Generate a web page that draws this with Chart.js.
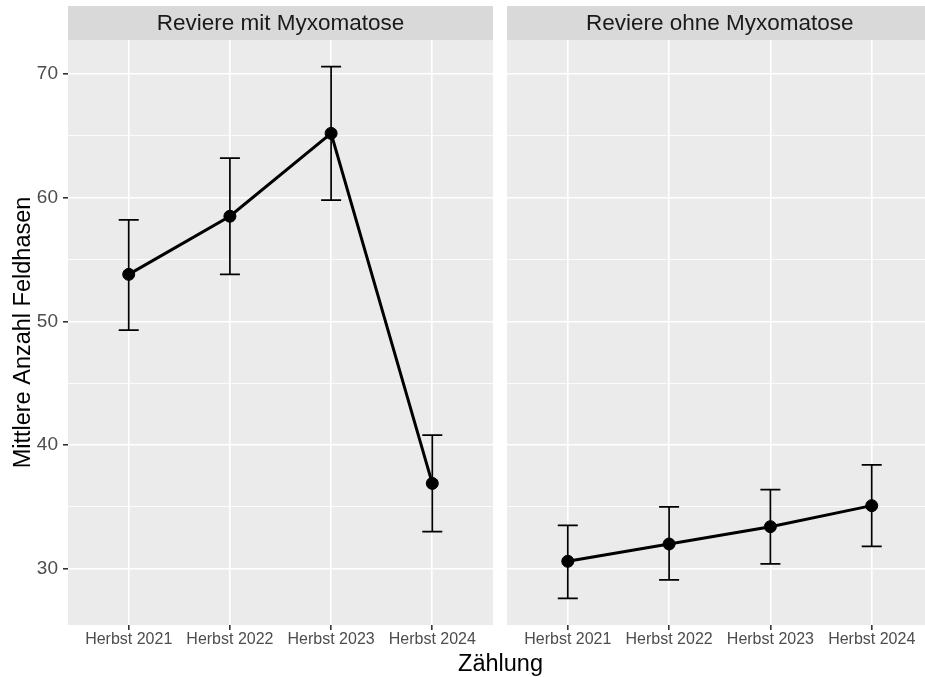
<!DOCTYPE html>
<html>
<head>
<meta charset="utf-8">
<script src="https://cdn.jsdelivr.net/npm/chart.js@4.4.1/dist/chart.umd.min.js"></script>
<style>
  body { margin: 0; background: #fff; overflow: hidden; width: 925px; height: 677px; position: relative; }
  canvas { position: absolute; top: 0; }
  #left { left: 0; }
  #right { left: 500px; }
  #xtitle { position: absolute; left: 400px; width: 201px; top: 652px; text-align: center;
            font: 23.5px "Liberation Sans", Arial, sans-serif; line-height: 23.5px; color: #000; }
</style>
</head>
<body>
<canvas id="left" width="500" height="677"></canvas>
<canvas id="right" width="440" height="677"></canvas>
<div id="xtitle">Zählung</div>
<script>
// data
const categories = ['Herbst 2021', 'Herbst 2022', 'Herbst 2023', 'Herbst 2024'];
const panels = ['Reviere mit Myxomatose', 'Reviere ohne Myxomatose'];

const mitMean  = [53.8, 58.5, 65.2, 36.9];
const mitLower = [49.3, 53.8, 59.8, 33.0];
const mitUpper = [58.2, 63.2, 70.6, 40.8];

const ohneMean  = [30.6, 32.0, 33.4, 35.1];
const ohneLower = [27.6, 29.1, 30.4, 31.8];
const ohneUpper = [33.5, 35.0, 36.4, 38.4];

const yGrid = [30, 35, 40, 45, 50, 55, 60, 65, 70]; // labels only on the tens
const yTitle = 'Mittlere Anzahl Feldhasen';

const FONT = '"Liberation Sans", Arial, sans-serif';

const panelPlugin = {
  id: 'panel',
  beforeDraw(chart, args, opts) {
    const { ctx, chartArea: a } = chart;
    ctx.save();
    ctx.fillStyle = '#ebebeb';
    ctx.fillRect(a.left, a.top, a.width, a.height);
    // strip
    ctx.fillStyle = '#d9d9d9';
    ctx.fillRect(a.left, 6, a.width, a.top - 6);
    ctx.fillStyle = '#1a1a1a';
    ctx.font = '22.5px ' + FONT;
    ctx.textAlign = 'center';
    ctx.textBaseline = 'middle';
    ctx.fillText(opts.strip, (a.left + a.right) / 2, 23.5);
    ctx.restore();
  },
  beforeDatasetsDraw(chart, args, opts) {
    const { ctx } = chart;
    const xs = chart.scales.x, ys = chart.scales.y;
    ctx.save();
    ctx.strokeStyle = '#000';
    ctx.lineWidth = 1.7;
    opts.lo.forEach((lo, i) => {
      const x = xs.getPixelForValue(i + 1);
      const y1 = ys.getPixelForValue(lo);
      const y2 = ys.getPixelForValue(opts.hi[i]);
      ctx.beginPath();
      ctx.moveTo(x, y1); ctx.lineTo(x, y2);
      ctx.moveTo(x - 10, y1); ctx.lineTo(x + 10, y1);
      ctx.moveTo(x - 10, y2); ctx.lineTo(x + 10, y2);
      ctx.stroke();
    });
    ctx.restore();
  },
  afterDraw(chart, args, opts) {
    if (!opts.yTitle) return;
    const { ctx, chartArea: a } = chart;
    ctx.save();
    ctx.translate(24, (a.top + a.bottom) / 2);
    ctx.rotate(-Math.PI / 2);
    ctx.fillStyle = '#000';
    ctx.font = '23.5px ' + FONT;
    ctx.textAlign = 'center';
    ctx.textBaseline = 'middle';
    ctx.fillText(opts.yTitle, 0, 0);
    ctx.restore();
  }
};

function makePanel(id, mean, lo, hi, strip, isLeft) {
  return new Chart(document.getElementById(id), {
    type: 'line',
    data: {
      datasets: [{
        data: mean.map((v, i) => ({ x: i + 1, y: v })),
        borderColor: '#000',
        borderWidth: 3,
        pointRadius: 6,
        pointBorderWidth: 1,
        pointBackgroundColor: '#000',
        pointBorderColor: '#000',
        tension: 0
      }]
    },
    options: {
      responsive: false,
      animation: false,
      layout: { padding: isLeft ? { left: 0, right: 4.5, top: 40, bottom: 0 }
                                : { left: 5, right: 7.5, top: 40, bottom: 0 } },
      plugins: {
        legend: { display: false },
        tooltip: { enabled: false },
        panel: { strip: strip, lo: lo, hi: hi, yTitle: isLeft ? yTitle : null }
      },
      scales: {
        x: {
          type: 'linear',
          min: 0.4,
          max: 4.6,
          afterBuildTicks: s => { s.ticks = categories.map((c, i) => ({ value: i + 1 })); },
          afterFit: s => { s.height = 52; },
          border: { display: false },
          grid: { color: '#fff', lineWidth: 1.6, tickLength: 5, tickColor: '#333', tickWidth: 1.6 },
          ticks: {
            autoSkip: false, maxRotation: 0, padding: 0,
            color: '#4d4d4d', font: { family: FONT, size: 16 },
            callback: v => categories[v - 1]
          }
        },
        y: {
          min: 25.45,
          max: 72.75,
          afterBuildTicks: s => { s.ticks = yGrid.map(v => ({ value: v })); },
          afterFit: s => { s.width = isLeft ? 68 : 0; },
          border: { display: false },
          grid: {
            color: '#fff',
            lineWidth: c => (c.tick && c.tick.value % 10 === 0) ? 1.6 : 0.8,
            drawTicks: isLeft,
            tickLength: 5,
            tickWidth: 1.6,
            tickColor: c => (c.tick && c.tick.value % 10 === 0) ? '#333' : 'rgba(0,0,0,0)'
          },
          ticks: {
            display: isLeft,
            padding: 5,
            color: '#4d4d4d', font: { family: FONT, size: 19 },
            callback: v => (v % 10 === 0 ? String(v) : '')
          }
        }
      }
    },
    plugins: [panelPlugin]
  });
}

makePanel('left', mitMean, mitLower, mitUpper, panels[0], true);
makePanel('right', ohneMean, ohneLower, ohneUpper, panels[1], false);
</script>
</body>
</html>
